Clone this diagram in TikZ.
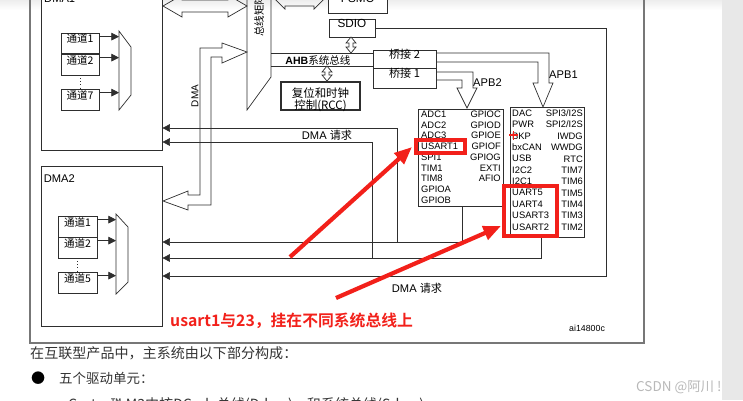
\documentclass[tikz,border=0pt]{standalone}
\usepackage{fontspec}
\setmainfont{Liberation Sans}
\newfontfamily\cjk{Noto Sans CJK SC}[BoldFont={Noto Sans CJK SC Bold}]
\usetikzlibrary{positioning, arrows.meta, fit}

\definecolor{linec}{HTML}{2E2E2E}
\definecolor{framec}{HTML}{777777}
\definecolor{redc}{HTML}{F2201A}
\definecolor{bodyc}{HTML}{333333}

% small hollow double arrow, vertical: x, top y, bottom y
\newcommand\vbiarrow[3]{%
    \draw[hollow, fill=white] (#1,#2) -- (#1+5,#2+6) -- (#1+2,#2+6) -- (#1+2,#3-6)
        -- (#1+5,#3-6) -- (#1,#3) -- (#1-5,#3-6) -- (#1-2,#3-6) -- (#1-2,#2+6)
        -- (#1-5,#2+6) -- cycle;}

\begin{document}
\begin{tikzpicture}
    [
        x=0.3mm, y=-0.3mm,
        every node/.style={inner sep=0pt},
        box/.style={draw=linec, line width=0.6pt, fill=white},
        chan/.style={box, font=\cjk\fontsize{9}{10}\selectfont},
        hollow/.style={draw=linec, line width=0.6pt, line join=miter},
        req/.style={draw=linec, line width=0.6pt, -{Triangle[length=6.5pt, width=6.5pt]}},
        feed/.style={draw=linec, line width=0.6pt, -{Triangle[length=6.5pt, width=6.5pt]}},
        hilite/.style={draw=redc, line width=2.8pt},
        callout/.style={draw=redc, line width=3.6pt, -{Triangle[length=15pt, width=12pt]}},
        tag/.style={font=\fontsize{9.5}{11}\selectfont},
        cell/.style={font=\fontsize{8}{9.17}\selectfont},
        cellb/.style={font=\fontsize{8}{9.7}\selectfont},
        body/.style={anchor=west, text=bodyc, font=\cjk\fontsize{12}{14}\selectfont}
    ]
        \useasboundingbox (0,0) rectangle (743,400);
        \shade[top color=black!7, bottom color=white] (0,0) rectangle (722,10);
        \fill[black!9] (722,0) rectangle (743,400);

        % =========================================================================
        % FRAME AND BUS
        % =========================================================================
        \draw[framec, line width=0.9pt] (30,-10) -- (30,343) -- (644,343) -- (644,-10);
        % --- bus matrix ---
        \draw[hollow] (247,-10) -- (247,110) -- (271,77) -- (271,-10);
        \node[font=\cjk\fontsize{9}{10}\selectfont, rotate=90, anchor=west] (busmtx) at (259,37) {总线矩阵};
        % --- AHB ---
        \coordinate (ahbhi) at (271,53);
        \coordinate (ahblo) at (271,66);

        % =========================================================================
        % NODES
        % =========================================================================
        % --- DMA1 ---
        \node[box, fit={(41,-10) (162,150)}] (dma1) {};
        \node[tag, anchor=west] (dma1lbl) at (44,-1) {DMA1};
        \node[chan, fit={(61,33) (99,53)}] (ch11) {通道1};
        \node[chan, fit={(61,54) (99,75)}] (ch12) {通道2};
        \node[chan, fit={(61,89) (99,110)}] (ch17) {通道7};
        % --- DMA2 ---
        \node[box, fit={(41,166) (162,326)}] (dma2) {};
        \node[tag, below right=11pt and 2.6pt of dma2.north west, anchor=west] (dma2lbl) {DMA2};
        \node[chan, fit={(58,216) (97,237)}] (ch21) {通道1};
        \node[chan, fit={(58,237) (97,258)}] (ch22) {通道2};
        \node[chan, fit={(58,272) (97,293)}] (ch25) {通道5};
        % --- AHB side ---
        \node[box, fit={(328,-7) (387,13)}, font=\fontsize{10}{12}\selectfont] (fsmc) {FSMC};
        \node[box, fit={(329,19) (375,37)}, font=\fontsize{10}{12}\selectfont] (sdio) {SDIO};
        \node[box, line width=1.4pt, fit={(281,82) (360,110)}] (rcc) {};
        \node[align=center, font=\cjk\fontsize{9.8}{10.3}\selectfont] (rcclbl)
            at ([yshift=-3pt]rcc.center) {复位和时钟\\控制(RCC)};
        \node[box, fit={(373,50) (436,68)}, font=\cjk\fontsize{9.5}{11}\selectfont] (bridge2) {桥接 2};
        \node[box, fit={(373,68) (436,88)}, font=\cjk\fontsize{9.5}{11}\selectfont] (bridge1) {桥接 1};
        % --- APB2 ---
        \node[box, fit={(418,109) (503,206)}] (apb2) {};
        \node[cell, align=left, anchor=north west] (apb2l) at (421,110.5)
            {ADC1\\ADC2\\ADC3\\USART1\\SPI1\\TIM1\\TIM8\\GPIOA\\GPIOB};
        \node[cell, align=right, anchor=north east] (apb2r) at (501,110.5)
            {GPIOC\\GPIOD\\GPIOE\\GPIOF\\GPIOG\\EXTI\\AFIO};
        % --- APB1 ---
        \node[box, fit={(510,107) (584,237)}] (apb1) {};
        \node[cellb, align=left, anchor=north west] (apb1l) at (512,109.6)
            {DAC\\PWR\\BKP\\bxCAN\\USB\\I2C2\\I2C1\\UART5\\UART4\\USART3\\USART2};
        \node[cellb, align=right, anchor=north east] (apb1r) at (583,109.6)
            {SPI3/I2S\\SPI2/I2S\\IWDG\\WWDG\\RTC\\TIM7\\TIM6\\TIM5\\TIM4\\TIM3\\TIM2};
        \draw[redc, line width=0.9pt] (509,135) -- (518,135) (513.5,131) -- (513.5,139.5);
        % --- labels ---
        \node[font=\fontsize{8.5}{10}\selectfont, rotate=90] (dmabus) at (195,96) {DMA};
        \node[font=\fontsize{9}{10}\selectfont] (ahblbl) at (318,60) {\textbf{AHB}{\cjk 系统总线}};
        \node[tag, anchor=west] (apb2lbl) at (473,83) {APB2};
        \node[tag, anchor=west] (apb1lbl) at (549,75) {APB1};
        \node[tag] (req1lbl) at (327,135) {DMA {\cjk 请求}};
        \node[tag] (req2lbl) at (417,288) {DMA {\cjk 请求}};
        \node[font=\fontsize{7.5}{9}\selectfont, anchor=west] (fignum) at (569,328) {ai14800c};

        % =========================================================================
        % PATHS
        % =========================================================================
        % --- channels to muxes ---
        \draw[hollow] (119,31) -- (131,47) -- (131,95) -- (119,110) -- cycle;
        \coordinate (mux1) at (119,70);
        \draw[hollow] (116,214) -- (128,227) -- (128,282) -- (116,294) -- cycle;
        \coordinate (mux2) at (116,254);
        \coordinate (f11) at ([yshift=-3.4pt]ch11.north east);
        \coordinate (f12) at ([yshift=-3.4pt]ch12.north east);
        \coordinate (f17) at ([yshift=-3.4pt]ch17.north east);
        \coordinate (f21) at ([yshift=-3.4pt]ch21.north east);
        \coordinate (f22) at ([yshift=-3.4pt]ch22.north east);
        \coordinate (f25) at ([yshift=-3.4pt]ch25.north east);
        \draw[feed] (f11) -- (f11 -| mux1);
        \draw[feed] (f12) -- (f12 -| mux1);
        \draw[feed] (f17) -- (f17 -| mux1);
        \draw[feed] (f21) -- (f21 -| mux2);
        \draw[feed] (f22) -- (f22 -| mux2);
        \draw[feed] (f25) -- (f25 -| mux2);
        \draw[linec, dotted, line width=0.6pt] (ch12.south) -- (ch17.north);
        \draw[linec, dotted, line width=0.6pt] (ch22.south) -- (ch25.north);
        % --- hollow bus arrows ---
        \draw[hollow] (163,6) -- (182,-5) -- (182,0) -- (228,0) -- (228,-5) -- (247,6)
            -- (228,17) -- (228,12) -- (182,12) -- (182,17) -- cycle;
        \draw[hollow] (271,-5) -- (285,-19) -- (285,-16) -- (314,-16) -- (314,-19) -- (328,-5)
            -- (314,9) -- (314,6) -- (285,6) -- (285,9) -- cycle;
        \draw[hollow] (222,48) -- (200,48) -- (200,195) -- (188,195) -- (188,191) -- (163,201)
            -- (188,210) -- (188,205) -- (211,205) -- (211,57) -- (222,57) -- (222,63)
            -- (247,52) -- (222,43) -- cycle;
        \draw[hollow] (ahbhi) -- (ahbhi -| bridge2.west);
        \draw[hollow] (ahblo) -- (ahblo -| bridge2.west);
        \vbiarrow{351}{37}{53}
        \vbiarrow{327}{66}{81}
        % --- APB arrows ---
        \draw[hollow] (bridge1.east |- 0,72) -- (473,72) -- (473,88) -- (477,88) -- (467,108)
            -- (457,88) -- (462,88) -- (462,80) -- (bridge1.east |- 0,80);
        \draw[hollow] (bridge2.east |- 0,53) -- (549,53) -- (549,83) -- (553,83) -- (543,107)
            -- (533,83) -- (538,83) -- (538,62) -- (bridge2.east |- 0,62);
        % --- DMA requests ---
        \coordinate (apb2out) at (apb2.south -| 462,0);
        \coordinate (apb1out) at (apb1.south -| 541,0);
        \coordinate (rq1) at (462,242);
        \coordinate (rq2) at (541,258);
        \coordinate (rq3) at (606,276);
        \coordinate (up1) at (397,242);
        \coordinate (up2) at (372,258);
        \coordinate (top1) at (397,128);
        \coordinate (top2) at (372,142);
        \draw[req] (apb2out) -- (rq1) -- (rq1 -| dma2.east);
        \draw[req] (apb1out) -- (rq2) -- (rq2 -| dma2.east);
        \draw[req] (sdio.east) -- (sdio.east -| rq3) -- (rq3) -- (rq3 -| dma2.east);
        \draw[req] (up1) -- (top1) -- (top1 -| dma1.east);
        \draw[req] (up2) -- (top2) -- (top2 -| dma1.east);

        % =========================================================================
        % RED NOTES
        % =========================================================================
        \node[hilite, fit={(416,140) (465,153)}] (hl1) {};
        \node[hilite, fit={(504,186) (557,236)}] (hl2) {};
        \coordinate (c1s) at (290,257);
        \coordinate (c1e) at (412,147);
        \coordinate (c2s) at (336,298);
        \coordinate (c2e) at (501,226);
        \draw[callout] (c1s) -- (c1e);
        \draw[callout] (c2s) -- (c2e);
        \node[anchor=west, text=redc, font=\cjk\bfseries\fontsize{13.5}{15}\selectfont] (note)
            at (170,321) {usart1与23，挂在不同系统总线上};

        % =========================================================================
        % PAGE TEXT
        % =========================================================================
        \node[body] (para) at (30,353) {在互联型产品中，主系统由以下部分构成：};
        \node[body, text=black] (bullet) at (31,378) {●};
        \node[body, font=\cjk\fontsize{11.5}{14}\selectfont] (item) at (59,378) {五个驱动单元：};
        \node[body] (sub) at (68,405) {Cortex™-M3内核DCode总线(D-bus)，和系统总线(S-bus)};
        \node[anchor=west, text=black!28, font=\cjk\fontsize{11.5}{13}\selectfont] (wm)
            at (636,387) {CSDN @阿川 !};
    \end{tikzpicture}
\end{document}
